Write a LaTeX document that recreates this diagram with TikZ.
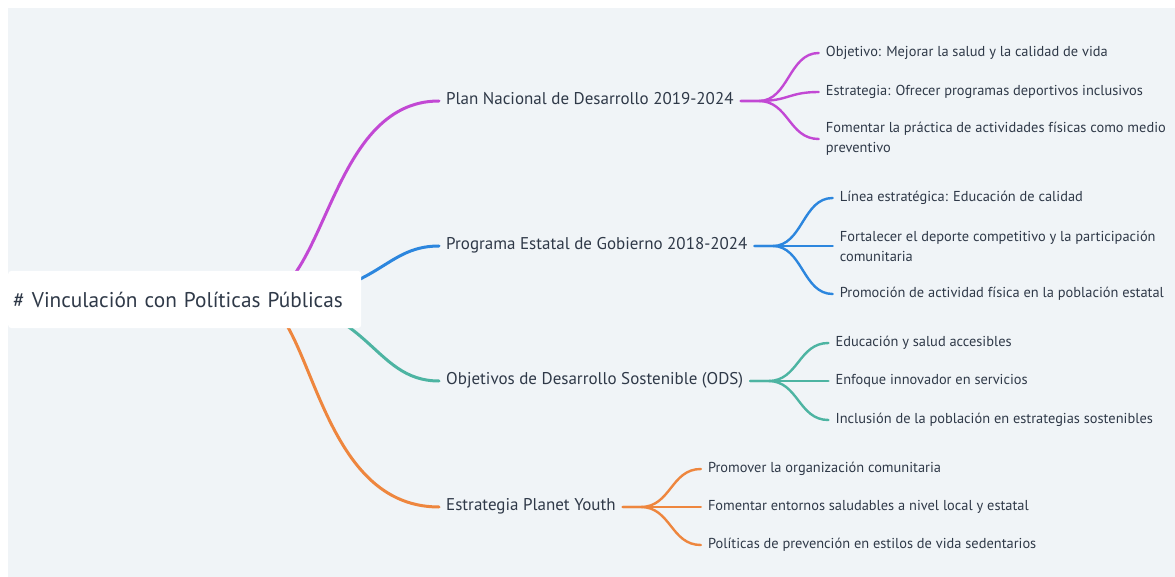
\documentclass[tikz,border=0pt]{standalone}
\usepackage{fontspec}
\setmainfont{PT Sans}
\usepackage{tikz}
\usetikzlibrary{positioning,calc,backgrounds}
\definecolor{bgpanel}{RGB}{240,244,247}
\definecolor{inkslate}{RGB}{47,57,72}
\definecolor{linkpurple}{RGB}{194,72,212}
\definecolor{linkblue}{RGB}{44,134,222}
\definecolor{linkteal}{RGB}{77,180,162}
\definecolor{linkorange}{RGB}{238,134,62}

\begin{document}
\begin{tikzpicture}[
  x=1pt, y=-1pt,
  rootbox/.style={rectangle, fill=white, rounded corners=3pt, anchor=west, minimum width=353pt, minimum height=57pt, inner xsep=5pt, text width=343pt, align=left, font=\fontsize{21.3}{25}\selectfont, text=inkslate},
  hubnode/.style={rectangle, anchor=west, inner xsep=7pt, inner ysep=0pt, text height=0.7em, text depth=0pt, font=\fontsize{17}{20}\selectfont, text=inkslate},
  leafbase/.style={rectangle, inner xsep=7pt, inner ysep=0pt, align=left, font=\fontsize{14.4}{20}\selectfont, text=inkslate},
  leafnode/.style={leafbase, text height=0.7em, text depth=0pt},
  mainlink/.style={line width=3pt, line cap=round},
  sublink/.style={line width=2.4pt, line cap=round}
]
\useasboundingbox (0,0) rectangle (1175,577);

% root and first level
\node[rootbox] (root) at (8,299.5) {\# Vinculación con Políticas Públicas};
\coordinate (hub) at ($(root.west)+(247,0)$);
\node[hubnode] (plan) at (439,101) {Plan Nacional de Desarrollo 2019-2024};
\node[hubnode] (prog) at (439,246) {Programa Estatal de Gobierno 2018-2024};
\node[hubnode] (ods) at (439,381) {Objetivos de Desarrollo Sostenible (ODS)};
\node[hubnode] (py) at (439,507) {Estrategia Planet Youth};

% leaves
\node[leafnode, right=78pt of plan.east, yshift=48pt] (p1) {Objetivo: Mejorar la salud y la calidad de vida};
\node[leafnode, right=78pt of plan.east, yshift=9pt] (p2) {Estrategia: Ofrecer programas deportivos inclusivos};
\node[leafbase, right=78pt of plan.east, yshift=-38pt] (p3) {Fomentar la práctica de actividades físicas como medio\\preventivo};

\node[leafnode, right=78pt of prog.east, yshift=48pt] (g1) {Línea estratégica: Educación de calidad};
\node[leafbase, right=78pt of prog.east] (g2) {Fortalecer el deporte competitivo y la participación\\comunitaria};
\node[leafnode, right=78pt of prog.east, yshift=-48pt] (g3) {Promoción de actividad física en la población estatal};

\node[leafnode, right=78pt of ods.east, yshift=38pt] (o1) {Educación y salud accesibles};
\node[leafnode, right=78pt of ods.east] (o2) {Enfoque innovador en servicios};
\node[leafnode, right=78pt of ods.east, yshift=-39pt] (o3) {Inclusión de la población en estrategias sostenibles};

\node[leafnode, right=78pt of py.east, yshift=38pt] (y1) {Promover la organización comunitaria};
\node[leafnode, right=78pt of py.east] (y2) {Fomentar entornos saludables a nivel local y estatal};
\node[leafnode, right=78pt of py.east, yshift=-38pt] (y3) {Políticas de prevención en estilos de vida sedentarios};

\begin{scope}[on background layer]
\fill[bgpanel] (8,8) rectangle (1175,577);

% root links
\draw[mainlink, linkpurple] (hub) .. controls +(72,0) and +(-112,0) .. (plan.west);
\draw[mainlink, linkblue] (hub) .. controls +(125,0) and +(-59,0) .. (prog.west);
\draw[mainlink, linkteal] (hub) .. controls +(116,0) and +(-68,0) .. (ods.west);
\draw[mainlink, linkorange] (hub) .. controls +(58,0) and +(-126,0) .. (py.west);

% leaf links
\foreach \leaf in {p1,p2,p3}
  \draw[sublink, linkpurple] (plan.east) -- ++(18,0) .. controls +(30,0) and +(-30,0) .. (\leaf.west);
\foreach \leaf in {g1,g2,g3}
  \draw[sublink, linkblue] (prog.east) -- ++(18,0) .. controls +(30,0) and +(-30,0) .. (\leaf.west);
\foreach \leaf in {o1,o2,o3}
  \draw[sublink, linkteal] (ods.east) -- ++(18,0) .. controls +(30,0) and +(-30,0) .. (\leaf.west);
\foreach \leaf in {y1,y2,y3}
  \draw[sublink, linkorange] (py.east) -- ++(18,0) .. controls +(30,0) and +(-30,0) .. (\leaf.west);
\end{scope}
\end{tikzpicture}
\end{document}
